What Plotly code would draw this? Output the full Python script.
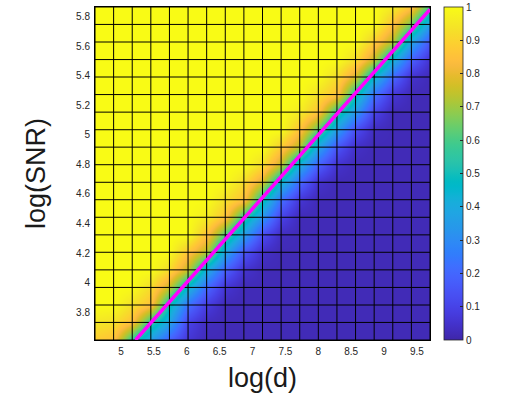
import plotly.graph_objects as go

# grid vertices
log_d = [4.605, 4.888, 5.171, 5.454, 5.737, 6.020, 6.303, 6.586, 6.869, 7.152,
         7.435, 7.718, 8.001, 8.284, 8.567, 8.850, 9.133, 9.416, 9.699]
log_snr = [3.611, 3.730, 3.848, 3.967, 4.086, 4.205, 4.323, 4.442, 4.561, 4.679,
           4.798, 4.917, 5.035, 5.154, 5.273, 5.392, 5.510, 5.629, 5.748, 5.866]

# success probability at each vertex (rows = log_snr, cols = log_d)
prob = [
    [0.88, 0.85, 0.55, 0.35, 0.18, 0.06, 0.02, 0.02, 0.02, 0.02, 0.02, 0.02, 0.02, 0.02, 0.02, 0.02, 0.02, 0.02, 0.02],
    [0.95, 0.93, 0.85, 0.55, 0.38, 0.10, 0.03, 0.02, 0.02, 0.02, 0.02, 0.02, 0.02, 0.02, 0.02, 0.02, 0.02, 0.02, 0.02],
    [1, 1, 0.93, 0.85, 0.50, 0.22, 0.08, 0.02, 0.02, 0.02, 0.02, 0.02, 0.02, 0.02, 0.02, 0.02, 0.02, 0.02, 0.02],
    [1, 1, 1, 0.92, 0.75, 0.45, 0.20, 0.06, 0.02, 0.02, 0.02, 0.02, 0.02, 0.02, 0.02, 0.02, 0.02, 0.02, 0.02],
    [1, 1, 1, 1, 0.92, 0.74, 0.40, 0.18, 0.05, 0.02, 0.02, 0.02, 0.02, 0.02, 0.02, 0.02, 0.02, 0.02, 0.02],
    [1, 1, 1, 1, 1, 0.86, 0.72, 0.38, 0.15, 0.04, 0.02, 0.02, 0.02, 0.02, 0.02, 0.02, 0.02, 0.02, 0.02],
    [1, 1, 1, 1, 1, 1, 0.85, 0.60, 0.35, 0.12, 0.03, 0.02, 0.02, 0.02, 0.02, 0.02, 0.02, 0.02, 0.02],
    [1, 1, 1, 1, 1, 1, 0.96, 0.86, 0.55, 0.32, 0.10, 0.02, 0.02, 0.02, 0.02, 0.02, 0.02, 0.02, 0.02],
    [1, 1, 1, 1, 1, 1, 1, 0.93, 0.85, 0.50, 0.22, 0.06, 0.02, 0.02, 0.02, 0.02, 0.02, 0.02, 0.02],
    [1, 1, 1, 1, 1, 1, 1, 1, 0.92, 0.76, 0.45, 0.20, 0.05, 0.02, 0.02, 0.02, 0.02, 0.02, 0.02],
    [1, 1, 1, 1, 1, 1, 1, 1, 1, 0.92, 0.74, 0.40, 0.18, 0.05, 0.02, 0.02, 0.02, 0.02, 0.02],
    [1, 1, 1, 1, 1, 1, 1, 1, 1, 1, 0.88, 0.72, 0.38, 0.15, 0.04, 0.02, 0.02, 0.02, 0.02],
    [1, 1, 1, 1, 1, 1, 1, 1, 1, 1, 1, 0.85, 0.62, 0.35, 0.12, 0.03, 0.02, 0.02, 0.02],
    [1, 1, 1, 1, 1, 1, 1, 1, 1, 1, 1, 0.96, 0.86, 0.55, 0.33, 0.10, 0.02, 0.02, 0.02],
    [1, 1, 1, 1, 1, 1, 1, 1, 1, 1, 1, 1, 0.93, 0.85, 0.50, 0.22, 0.06, 0.02, 0.02],
    [1, 1, 1, 1, 1, 1, 1, 1, 1, 1, 1, 1, 1, 0.92, 0.76, 0.45, 0.20, 0.05, 0.02],
    [1, 1, 1, 1, 1, 1, 1, 1, 1, 1, 1, 1, 1, 1, 0.92, 0.74, 0.42, 0.18, 0.05],
    [1, 1, 1, 1, 1, 1, 1, 1, 1, 1, 1, 1, 1, 1, 1, 0.88, 0.72, 0.38, 0.15],
    [1, 1, 1, 1, 1, 1, 1, 1, 1, 1, 1, 1, 1, 1, 1, 1, 0.85, 0.65, 0.35],
    [1, 1, 1, 1, 1, 1, 1, 1, 1, 1, 1, 1, 1, 1, 1, 1, 0.96, 0.86, 0.58],
]

# theoretical boundary (magenta line)
boundary_x = [5.222, 9.699]
boundary_y = [3.611, 5.850]

x_ticks = [5, 5.5, 6, 6.5, 7, 7.5, 8, 8.5, 9, 9.5]
x_ticktext = ["5", "5.5", "6", "6.5", "7", "7.5", "8", "8.5", "9", "9.5"]
y_ticks = [3.8, 4, 4.2, 4.4, 4.6, 4.8, 5, 5.2, 5.4, 5.6, 5.8]
y_ticktext = ["3.8", "4", "4.2", "4.4", "4.6", "4.8", "5", "5.2", "5.4", "5.6", "5.8"]
cb_ticks = [0, 0.1, 0.2, 0.3, 0.4, 0.5, 0.6, 0.7, 0.8, 0.9, 1]
cb_ticktext = ["0", "0.1", "0.2", "0.3", "0.4", "0.5", "0.6", "0.7", "0.8", "0.9", "1"]

parula = [
    [0.2422, 0.1504, 0.6603], [0.2504, 0.1650, 0.7076], [0.2578, 0.1818, 0.7511], [0.2647, 0.1978, 0.7952],
    [0.2706, 0.2147, 0.8364], [0.2751, 0.2342, 0.8710], [0.2783, 0.2559, 0.8991], [0.2803, 0.2782, 0.9221],
    [0.2813, 0.3006, 0.9414], [0.2810, 0.3228, 0.9579], [0.2795, 0.3447, 0.9717], [0.2760, 0.3667, 0.9829],
    [0.2699, 0.3892, 0.9906], [0.2602, 0.4123, 0.9952], [0.2440, 0.4358, 0.9988], [0.2206, 0.4603, 0.9973],
    [0.1963, 0.4847, 0.9892], [0.1834, 0.5074, 0.9798], [0.1786, 0.5289, 0.9682], [0.1764, 0.5499, 0.9520],
    [0.1687, 0.5703, 0.9359], [0.1540, 0.5902, 0.9218], [0.1460, 0.6091, 0.9079], [0.1380, 0.6276, 0.8973],
    [0.1248, 0.6459, 0.8883], [0.1113, 0.6635, 0.8763], [0.0952, 0.6798, 0.8598], [0.0689, 0.6948, 0.8394],
    [0.0297, 0.7082, 0.8163], [0.0036, 0.7203, 0.7917], [0.0067, 0.7312, 0.7660], [0.0433, 0.7411, 0.7394],
    [0.0964, 0.7500, 0.7120], [0.1408, 0.7584, 0.6842], [0.1717, 0.7670, 0.6554], [0.1938, 0.7758, 0.6251],
    [0.2161, 0.7843, 0.5923], [0.2470, 0.7918, 0.5567], [0.2906, 0.7973, 0.5188], [0.3406, 0.8008, 0.4789],
    [0.3909, 0.8029, 0.4354], [0.4456, 0.8024, 0.3909], [0.5044, 0.7993, 0.3480], [0.5616, 0.7942, 0.3045],
    [0.6174, 0.7876, 0.2612], [0.6720, 0.7793, 0.2227], [0.7242, 0.7698, 0.1910], [0.7738, 0.7598, 0.1646],
    [0.8203, 0.7498, 0.1535], [0.8634, 0.7406, 0.1596], [0.9035, 0.7330, 0.1774], [0.9393, 0.7288, 0.2100],
    [0.9728, 0.7298, 0.2394], [0.9956, 0.7434, 0.2371], [0.9970, 0.7659, 0.2199], [0.9952, 0.7893, 0.2028],
    [0.9892, 0.8136, 0.1885], [0.9786, 0.8386, 0.1766], [0.9676, 0.8639, 0.1643], [0.9610, 0.8890, 0.1537],
    [0.9597, 0.9135, 0.1423], [0.9628, 0.9373, 0.1265], [0.9691, 0.9606, 0.1064], [0.9769, 0.9839, 0.0805],
]
n = len(parula)
colorscale = [[i / (n - 1), "rgb(%d,%d,%d)" % (round(r * 255), round(g * 255), round(b * 255))]
              for i, (r, g, b) in enumerate(parula)]

TXT = "#262626"
FONT = "Liberation Sans, Arial, Helvetica, sans-serif"

fig = go.Figure()
fig.add_trace(go.Heatmap(
    x=log_d, y=log_snr, z=prob, zmin=0, zmax=1, zsmooth="best",
    colorscale=colorscale, hoverinfo="skip",
    colorbar=dict(
        x=1.0427, xanchor="left", xref="paper", y=0.5, yanchor="middle",
        len=1, lenmode="fraction", thickness=19, thicknessmode="pixels",
        outlinecolor="#262626", outlinewidth=0.8,
        tickvals=cb_ticks, ticktext=cb_ticktext, ticks="inside", ticklen=3,
        tickcolor="#262626", tickfont=dict(size=10, color=TXT, family=FONT),
        xpad=0, ypad=0,
    ),
))

# mesh edges (black grid lines over the surface)
gx, gy = [], []
for xv in log_d:
    gx += [xv, xv, None]
    gy += [log_snr[0], log_snr[-1], None]
for yv in log_snr:
    gx += [log_d[0], log_d[-1], None]
    gy += [yv, yv, None]
fig.add_trace(go.Scatter(x=gx, y=gy, mode="lines", line=dict(color="black", width=1),
                         hoverinfo="skip", showlegend=False))

fig.add_trace(go.Scatter(x=boundary_x, y=boundary_y, mode="lines",
                         line=dict(color="#ff00ff", width=3.5), hoverinfo="skip",
                         showlegend=False))

fig.update_layout(
    width=526, height=394,
    margin=dict(l=95, r=96, t=6, b=53),
    paper_bgcolor="white", plot_bgcolor="white",
    font=dict(family=FONT, color=TXT, size=10),
    showlegend=False,
    xaxis=dict(range=[log_d[0], log_d[-1]], tickvals=x_ticks, ticktext=x_ticktext,
               showgrid=False, zeroline=False, ticks="outside", ticklen=2,
               tickcolor="rgba(0,0,0,0)", tickfont=dict(size=10, color=TXT),
               title=dict(text="log(d)", font=dict(size=27, color="#1a1a1a"), standoff=12),
               showline=True, linecolor="black", linewidth=1, mirror=True),
    yaxis=dict(range=[log_snr[0], log_snr[-1]], tickvals=y_ticks, ticktext=y_ticktext,
               showgrid=False, zeroline=False, ticks="outside", ticklen=2,
               tickcolor="rgba(0,0,0,0)", tickfont=dict(size=10, color=TXT),
               title=dict(text="log(SNR)", font=dict(size=27, color="#1a1a1a"), standoff=22),
               showline=True, linecolor="black", linewidth=1, mirror=True),
)

fig.write_html("out.html", config={"displayModeBar": False},
               post_script="document.body.style.margin='0';document.body.style.overflow='hidden';")
